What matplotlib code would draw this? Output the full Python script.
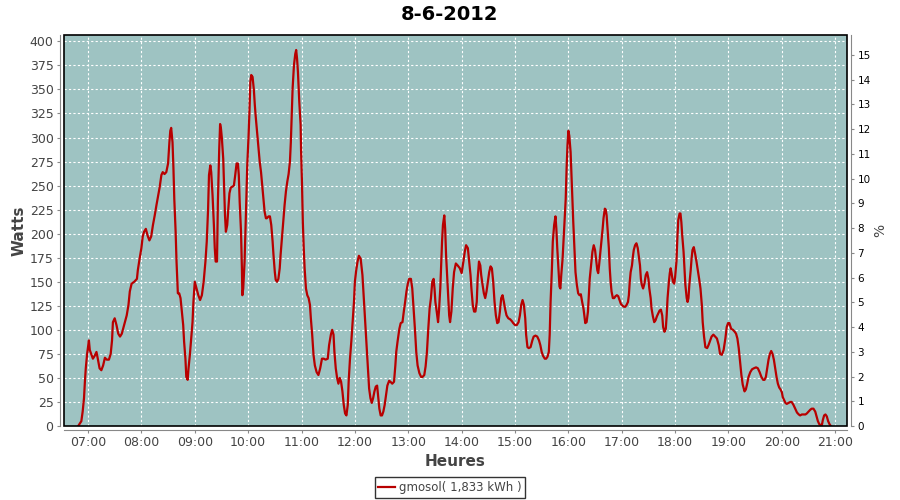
import matplotlib
matplotlib.use("Agg")
import matplotlib.pyplot as plt
import numpy as np
import pandas as pd
from matplotlib.patches import Rectangle

times = [
    "06:49:00", "06:52:30", "06:54:00", "06:55:30", "06:56:30", "06:57:30", "06:59:00", "07:00:00",
    "07:01:00", "07:02:00", "07:04:00", "07:05:30", "07:07:30", "07:09:30", "07:11:00", "07:13:00",
    "07:15:00", "07:17:00", "07:19:00", "07:21:00", "07:23:30", "07:25:30", "07:27:00", "07:28:00",
    "07:30:00", "07:32:00", "07:34:00", "07:36:00", "07:38:00", "07:40:00", "07:41:30", "07:43:30",
    "07:45:30", "07:47:00", "07:49:00", "07:52:00", "07:55:00", "07:56:00", "07:58:00", "08:00:00",
    "08:01:30", "08:03:00", "08:05:00", "08:07:00", "08:09:00", "08:11:00", "08:13:00", "08:15:00",
    "08:17:00", "08:19:00", "08:20:30", "08:22:30", "08:24:00", "08:26:00", "08:28:00", "08:30:00",
    "08:31:30", "08:32:30", "08:33:30", "08:35:00", "08:36:00", "08:37:00", "08:38:30", "08:39:30",
    "08:41:00", "08:42:30", "08:44:00", "08:45:30", "08:47:00", "08:48:00", "08:49:30", "08:50:30",
    "08:52:00", "08:53:00", "08:54:30", "08:56:00", "08:57:30", "08:58:30", "09:00:00", "09:02:00",
    "09:04:00", "09:06:00", "09:08:00", "09:10:00", "09:12:00", "09:13:30", "09:15:00", "09:16:00",
    "09:17:30", "09:18:30", "09:20:00", "09:21:30", "09:22:30", "09:23:30", "09:25:00", "09:26:00",
    "09:27:30", "09:28:30", "09:29:30", "09:30:30", "09:32:00", "09:33:00", "09:34:00", "09:35:00",
    "09:36:30", "09:37:30", "09:39:00", "09:40:30", "09:42:30", "09:44:00", "09:45:30", "09:47:00",
    "09:48:30", "09:49:30", "09:50:30", "09:52:00", "09:53:00", "09:53:30", "09:54:30", "09:56:00",
    "09:57:00", "09:58:00", "09:59:00", "10:00:30", "10:01:30", "10:02:30", "10:03:30", "10:05:00",
    "10:06:30", "10:07:30", "10:08:30", "10:10:00", "10:11:30", "10:13:00", "10:14:30", "10:16:00",
    "10:17:30", "10:18:30", "10:20:00", "10:21:00", "10:23:00", "10:24:30", "10:26:00", "10:27:30",
    "10:28:30", "10:30:00", "10:31:00", "10:32:30", "10:34:00", "10:35:30", "10:36:30", "10:38:00",
    "10:39:30", "10:41:00", "10:42:30", "10:44:00", "10:45:30", "10:47:00", "10:48:00", "10:49:00",
    "10:50:00", "10:51:30", "10:53:00", "10:54:00", "10:55:00", "10:56:00", "10:57:30", "10:59:00",
    "10:59:30", "11:00:30", "11:01:30", "11:02:30", "11:03:30", "11:05:00", "11:06:30", "11:08:00",
    "11:09:30", "11:10:30", "11:12:00", "11:13:30", "11:15:00", "11:17:00", "11:19:00", "11:21:00",
    "11:23:00", "11:25:00", "11:27:00", "11:29:30", "11:31:00", "11:33:00", "11:34:30", "11:36:00",
    "11:37:00", "11:38:30", "11:40:00", "11:41:30", "11:43:00", "11:44:30", "11:46:00", "11:47:30",
    "11:49:00", "11:50:30", "11:52:00", "11:53:00", "11:54:30", "11:56:00", "11:57:30", "11:59:00",
    "12:00:00", "12:01:30", "12:03:00", "12:04:30", "12:06:30", "12:08:30", "12:10:00", "12:11:30",
    "12:13:00", "12:14:30", "12:16:00", "12:17:30", "12:19:00", "12:20:30", "12:22:00", "12:23:30",
    "12:25:00", "12:26:00", "12:27:30", "12:29:00", "12:30:30", "12:32:00", "12:33:30", "12:35:00",
    "12:36:30", "12:38:30", "12:40:00", "12:42:00", "12:44:00", "12:45:30", "12:46:30", "12:48:00",
    "12:50:00", "12:51:30", "12:53:30", "12:55:00", "12:56:30", "12:58:00", "12:59:30", "13:01:00",
    "13:03:00", "13:04:30", "13:06:00", "13:07:30", "13:09:00", "13:10:30", "13:12:30", "13:14:30",
    "13:16:00", "13:18:00", "13:19:30", "13:21:00", "13:22:30", "13:24:00", "13:25:30", "13:27:00",
    "13:28:30", "13:29:30", "13:30:30", "13:32:00", "13:33:30", "13:34:30", "13:36:00", "13:37:00",
    "13:38:00", "13:39:00", "13:40:30", "13:41:30", "13:42:30", "13:44:00", "13:45:00", "13:46:00",
    "13:47:00", "13:48:30", "13:50:00", "13:51:30", "13:53:30", "13:55:30", "13:58:00", "14:00:00",
    "14:02:00", "14:03:30", "14:05:00", "14:07:00", "14:08:30", "14:10:00", "14:11:00", "14:12:30",
    "14:14:00", "14:15:30", "14:17:00", "14:18:00", "14:19:30", "14:21:00", "14:22:00", "14:23:30",
    "14:25:00", "14:26:30", "14:28:00", "14:29:30", "14:31:00", "14:32:30", "14:34:00", "14:35:30",
    "14:37:00", "14:38:30", "14:40:00", "14:41:30", "14:43:00", "14:44:30", "14:46:00", "14:47:30",
    "14:49:00", "14:50:30", "14:52:30", "14:54:30", "14:56:30", "14:58:00", "15:00:00", "15:02:00",
    "15:04:00", "15:05:30", "15:07:00", "15:08:30", "15:10:00", "15:11:30", "15:12:30", "15:14:00",
    "15:15:30", "15:17:30", "15:19:30", "15:21:00", "15:23:00", "15:25:00", "15:27:00", "15:28:30",
    "15:30:00", "15:31:30", "15:33:30", "15:35:00", "15:36:30", "15:38:00", "15:39:00", "15:40:00",
    "15:41:30", "15:42:30", "15:44:00", "15:45:30", "15:46:30", "15:47:30", "15:49:00", "15:50:00",
    "15:51:00", "15:52:00", "15:53:30", "15:54:30", "15:55:30", "15:57:00", "15:58:00", "15:59:00",
    "16:00:00", "16:01:00", "16:02:30", "16:03:30", "16:04:30", "16:05:30", "16:07:00", "16:08:00",
    "16:09:30", "16:11:00", "16:12:30", "16:14:00", "16:15:30", "16:17:00", "16:19:00", "16:20:30",
    "16:22:00", "16:23:00", "16:24:00", "16:25:30", "16:27:00", "16:28:30", "16:30:00", "16:31:30",
    "16:32:30", "16:33:30", "16:34:30", "16:36:00", "16:37:30", "16:38:30", "16:39:30", "16:41:00",
    "16:42:00", "16:43:00", "16:44:00", "16:45:30", "16:46:30", "16:47:30", "16:48:30", "16:50:00",
    "16:51:30", "16:53:00", "16:54:30", "16:56:00", "16:57:30", "16:59:00", "17:01:00", "17:02:30",
    "17:04:00", "17:05:30", "17:07:00", "17:08:00", "17:09:00", "17:10:00", "17:11:30", "17:12:30",
    "17:13:30", "17:15:00", "17:16:30", "17:18:00", "17:19:00", "17:20:30", "17:21:30", "17:22:30",
    "17:24:00", "17:25:30", "17:27:00", "17:28:30", "17:30:00", "17:31:00", "17:32:30", "17:33:30",
    "17:35:00", "17:36:30", "17:38:00", "17:39:30", "17:41:00", "17:42:30", "17:44:00", "17:45:30",
    "17:46:30", "17:48:00", "17:49:30", "17:50:30", "17:51:30", "17:53:00", "17:54:00", "17:55:00",
    "17:56:00", "17:57:30", "17:59:00", "18:00:00", "18:01:30", "18:02:30", "18:03:30", "18:05:00",
    "18:06:00", "18:07:00", "18:08:00", "18:09:30", "18:10:30", "18:11:30", "18:13:00", "18:14:00",
    "18:15:00", "18:16:00", "18:17:30", "18:18:30", "18:19:30", "18:21:00", "18:22:30", "18:24:00",
    "18:25:30", "18:27:00", "18:28:30", "18:30:00", "18:31:00", "18:32:30", "18:34:00", "18:36:00",
    "18:37:30", "18:39:30", "18:41:00", "18:43:00", "18:45:00", "18:47:00", "18:49:00", "18:50:30",
    "18:52:30", "18:54:30", "18:56:30", "18:58:00", "18:59:30", "19:01:00", "19:03:00", "19:05:00",
    "19:07:00", "19:08:30", "19:10:00", "19:11:30", "19:13:00", "19:14:30", "19:16:00", "19:18:00",
    "19:19:30", "19:21:00", "19:22:30", "19:24:30", "19:26:30", "19:28:30", "19:31:00", "19:33:00",
    "19:35:00", "19:37:00", "19:39:00", "19:40:30", "19:42:00", "19:43:30", "19:45:00", "19:46:30",
    "19:48:00", "19:49:30", "19:51:00", "19:52:30", "19:54:00", "19:55:30", "19:57:00", "19:58:30",
    "20:00:00", "20:01:00", "20:02:30", "20:04:00", "20:05:30", "20:07:30", "20:09:30", "20:11:00",
    "20:13:00", "20:15:00", "20:17:00", "20:19:00", "20:20:30", "20:22:30", "20:24:30", "20:26:30",
    "20:28:00", "20:30:00", "20:32:00", "20:33:30", "20:35:30", "20:37:30", "20:39:00", "20:40:30",
    "20:42:00", "20:43:30", "20:45:00", "20:46:00", "20:47:30", "20:49:00", "20:50:30", "20:52:00",
    "20:53:30", "20:55:00",
]
watts = [
    0, 5, 15, 29, 46, 60, 75, 82,
    89, 79, 74, 70, 73, 77, 70, 60,
    58, 63, 71, 69, 69, 75, 89, 108,
    112, 105, 96, 93, 96, 103, 108, 115,
    126, 140, 148, 150, 153, 162, 174, 185,
    197, 202, 205, 198, 193, 197, 209, 219,
    230, 240, 248, 261, 264, 262, 264, 273,
    295, 307, 310, 295, 269, 236, 202, 171,
    138, 138, 133, 119, 105, 88, 70, 51,
    48, 60, 74, 91, 108, 129, 150, 143,
    136, 131, 136, 150, 171, 192, 226, 261,
    271, 264, 240, 209, 185, 171, 171, 233,
    288, 314, 309, 299, 278, 247, 219, 202,
    209, 223, 242, 248, 249, 250, 261, 273,
    273, 261, 233, 202, 164, 136, 143, 171,
    202, 236, 271, 302, 327, 358, 365, 363,
    349, 334, 322, 306, 289, 275, 264, 249,
    233, 223, 216, 216, 218, 218, 209, 192,
    178, 160, 152, 150, 153, 164, 178, 195,
    213, 230, 244, 254, 262, 275, 295, 323,
    351, 375, 387, 391, 382, 368, 337, 313,
    287, 254, 212, 185, 164, 143, 136, 133,
    126, 112, 95, 74, 63, 56, 53, 60,
    70, 70, 69, 70, 84, 95, 100, 95,
    77, 60, 50, 44, 50, 46, 36, 22,
    13, 11, 22, 46, 70, 88, 108, 129,
    150, 162, 171, 177, 174, 157, 133, 108,
    84, 60, 39, 29, 24, 29, 36, 41,
    42, 32, 18, 11, 11, 15, 22, 32,
    42, 47, 46, 44, 46, 63, 77, 88,
    101, 107, 108, 119, 129, 140, 148, 153,
    153, 143, 122, 101, 77, 63, 55, 51,
    51, 53, 62, 77, 101, 122, 133, 150,
    153, 143, 129, 119, 108, 119, 143, 167,
    192, 209, 219, 205, 178, 150, 129, 115,
    108, 119, 143, 160, 169, 167, 164, 159,
    171, 181, 188, 185, 171, 157, 143, 126,
    119, 119, 129, 153, 171, 167, 157, 147,
    138, 133, 140, 150, 160, 166, 164, 150,
    129, 115, 107, 108, 119, 133, 136, 129,
    121, 115, 112, 111, 109, 107, 105, 105,
    108, 115, 126, 131, 126, 112, 95, 82,
    81, 82, 89, 93, 94, 93, 89, 84,
    77, 73, 70, 70, 72, 77, 95, 129,
    164, 192, 209, 218, 205, 185, 160, 145,
    143, 157, 174, 192, 209, 236, 268, 292,
    307, 302, 285, 261, 236, 212, 181, 160,
    147, 138, 136, 137, 129, 122, 107, 108,
    119, 136, 153, 167, 181, 188, 183, 171,
    162, 159, 167, 181, 195, 205, 216, 226,
    225, 219, 205, 185, 164, 150, 140, 133,
    133, 135, 136, 135, 131, 127, 125, 124,
    124, 126, 129, 136, 150, 160, 167, 176,
    183, 188, 190, 185, 178, 167, 153, 147,
    143, 148, 157, 160, 153, 143, 133, 122,
    114, 108, 110, 114, 117, 120, 121, 115,
    103, 98, 101, 115, 133, 150, 159, 164,
    159, 150, 148, 155, 171, 195, 214, 221,
    221, 212, 198, 181, 164, 147, 133, 129,
    133, 147, 162, 174, 183, 186, 179, 171,
    162, 153, 143, 126, 108, 93, 82, 81,
    84, 89, 93, 95, 93, 91, 84, 75,
    74, 79, 91, 103, 107, 107, 101, 100,
    98, 96, 91, 81, 67, 53, 43, 36,
    38, 44, 51, 56, 59, 60, 61, 60,
    56, 51, 48, 48, 51, 60, 69, 75,
    78, 75, 69, 60, 51, 44, 40, 38,
    35, 30, 27, 24, 23, 24, 25, 25,
    22, 18, 14, 12, 11, 12, 12, 12,
    13, 15, 17, 18, 18, 15, 10, 5,
    2, 1, 1, 6, 11, 12, 10, 5,
    2, 0,
]

title = "8-6-2012"
series_label = "gmosol( 1,833 kWh )"
hour_ticks = list(range(7, 22))
hour_labels = ["%02d:00" % h for h in hour_ticks]
watt_ticks = list(range(0, 401, 25))
pct_ticks = list(range(0, 16))

hours = pd.to_timedelta(times).total_seconds() / 3600.0

bg = "#9EC3C2"
red = "#B80000"
grey = "#444444"

fig = plt.figure(figsize=(9, 5), dpi=100)
ax = fig.add_axes([0.0711, 0.148, 0.87, 0.782])
ax.set_facecolor(bg)

ax.plot(hours, watts, color=red, linewidth=1.6, label=series_label, zorder=3)

ax.set_xlim(6.55, 21.22)
ax.set_ylim(0, 406.6)
ax.set_xticks(hour_ticks)
ax.set_xticklabels(hour_labels)
ax.set_yticks(watt_ticks)

ax.grid(True, color="white", linestyle=(0, (2, 2)), linewidth=0.8)
ax.set_axisbelow(True)

for side in ["left", "bottom"]:
    ax.spines[side].set_position(("outward", 3))
    ax.spines[side].set_color("#888888")
ax.spines["top"].set_visible(False)
ax.spines["right"].set_visible(False)
ax.tick_params(axis="both", colors="#888888", labelcolor=grey, labelsize=9, length=2, pad=2.5)

ax.add_patch(Rectangle((0, 0), 1, 1, transform=ax.transAxes, fill=False,
                       edgecolor="black", linewidth=1.2, clip_on=False, zorder=5))

ax.set_xlabel("Heures", fontsize=11, fontweight="bold", color=grey, labelpad=3)
ax.set_ylabel("Watts", fontsize=11, fontweight="bold", color=grey, labelpad=2)

ax2 = ax.twinx()
ax2.set_ylim(0, 15.81)
ax2.set_yticks(pct_ticks)
for side in ["left", "top", "bottom"]:
    ax2.spines[side].set_visible(False)
ax2.spines["right"].set_position(("outward", 3))
ax2.spines["right"].set_color("#888888")
ax2.tick_params(axis="y", colors="#888888", labelcolor="black", labelsize=7.5, length=2, pad=2.5)
ax2.set_ylabel("%", fontsize=10, color=grey, labelpad=2)

fig.suptitle(title, fontsize=14, fontweight="bold", y=0.99, va="top")

leg = fig.legend(loc="center", bbox_to_anchor=(0.5, 0.025), frameon=True, fontsize=8.5,
                 handlelength=1.4, handletextpad=0.4, borderpad=0.3, fancybox=False)
leg.get_frame().set_edgecolor("black")
leg.get_frame().set_linewidth(1.0)
for t in leg.get_texts():
    t.set_color(grey)

fig.savefig("out.png", dpi=100)
